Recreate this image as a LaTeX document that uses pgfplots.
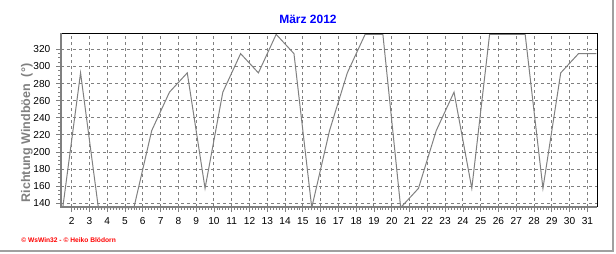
\documentclass[border=0pt]{standalone}
\usepackage{pgfplots}
\pgfplotsset{compat=1.18}
\usepackage{fontspec}
\setmainfont{Liberation Sans}
\definecolor{wgray}{HTML}{808080}
\definecolor{fgray}{HTML}{A0A0A0}
\definecolor{tblue}{HTML}{0000FF}
\pgfplotstableread{
x y
1.5 135
2.5 292.5
3.5 135
4.5 135
5.5 135
6.5 225
7.5 270
8.5 292.5
9.5 157.5
10.5 270
11.5 315
12.5 292.5
13.5 337.5
14.5 315
15.5 135
16.5 225
17.5 292.5
18.5 337.5
19.5 337.5
20.5 135
21.5 157.5
22.5 225
23.5 270
24.5 157.5
25.5 337.5
26.5 337.5
27.5 337.5
28.5 157.5
29.5 292.5
30.5 315
31.5 315
}\windtab
\begin{document}
\begin{tikzpicture}
\useasboundingbox (0pt,0pt) rectangle (462pt,189.75pt);
\begin{axis}[
  at={(45.75pt,34.35pt)}, anchor=south west,
  scale only axis, width=402pt, height=130.4pt,
  xmin=1.4, xmax=31.54, ymin=135.5, ymax=338.7,
  xtick={2,...,31}, ytick={140,160,...,320},
  minor x tick num=5, minor y tick num=3,
  tick align=outside, tick pos=left,
  major tick length=3.5pt, minor tick length=2pt,
  every tick/.style={wgray, line width=0.6pt},
  axis line style={draw=none},
  grid=major,
  major grid style={wgray, line width=0.75pt, dash pattern=on 2.25pt off 2.25pt},
  tick label style={font=\fontsize{7.6}{9}\selectfont, text=black},
  /pgf/number format/assume math mode=true,
  xticklabel style={yshift=-1pt},
  yticklabel style={xshift=-1pt},
  clip=false,
]
\addplot[wgray, line width=0.75pt] table[x=x, y=y] {\windtab};
\draw[black, line width=0.75pt] (rel axis cs:0,1) -- (rel axis cs:1,1) -- (rel axis cs:1,0);
\draw[wgray, line width=1.6pt] (rel axis cs:0,1) -- (rel axis cs:0,0) -- (rel axis cs:1,0);
\end{axis}
\node[font=\bfseries\fontsize{9}{11}\selectfont, text=tblue] at (231pt,175.5pt) {März 2012};
\node[rotate=90, font=\bfseries\fontsize{9.4}{11}\selectfont, text=wgray] at (20.25pt,90pt) {Richtung Windböen\ \ (°)};
\node[anchor=west, text=red, font=\bfseries\fontsize{5}{6}\selectfont, inner sep=0pt] at (15.75pt,9.75pt) {© WsWin32 - © Heiko Blödorn};
\draw[fgray, line width=1.5pt] (0pt,1.5pt) -- (459.75pt,1.5pt) -- (459.75pt,189.75pt);
\end{tikzpicture}
\end{document}
